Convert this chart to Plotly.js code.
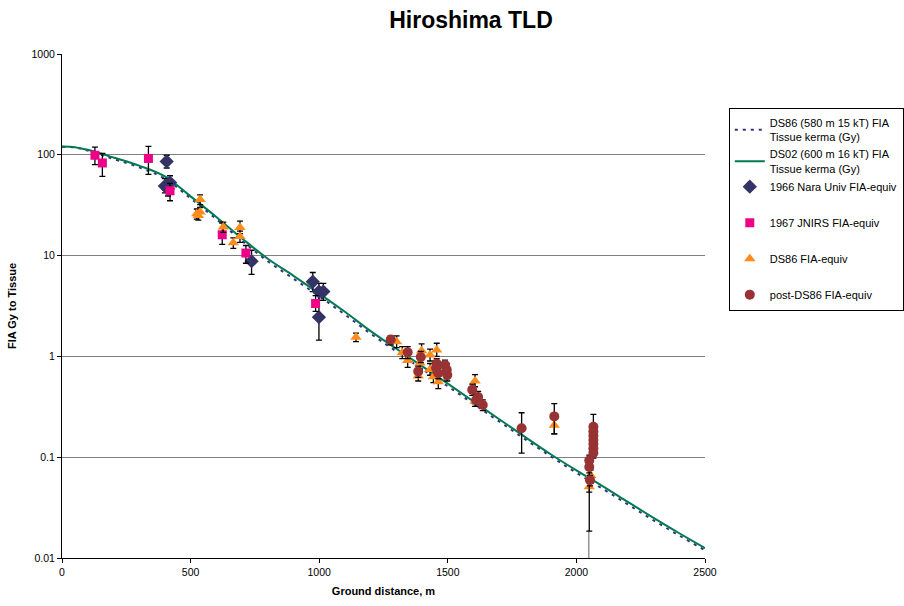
<!DOCTYPE html>
<html>
<head>
<meta charset="utf-8">
<script src="https://cdn.plot.ly/plotly-3.0.1.min.js"></script>
<style>html,body{margin:0;padding:0;background:#fff;}#chart{width:904px;height:606px;}</style>
</head>
<body>
<div id="chart"></div>
<script>
// Calculated curves
const curveX = [0, 50, 100, 150, 200, 300, 400, 500, 600, 700, 800, 900, 1000, 1100, 1200, 1300, 1400, 1500, 1600, 1700, 1800, 1900, 2000, 2100, 2200, 2300, 2400, 2500];
const ds02Curve = [121, 119, 112, 103, 94, 78, 61, 38.7, 24.2, 14.8, 9.3, 6.3, 4.2, 2.77, 1.78, 1.19, 0.80, 0.536, 0.357, 0.238, 0.159, 0.107, 0.074, 0.052, 0.036, 0.025, 0.0176, 0.0125];
const ds86Curve = [120, 118, 110, 100, 91, 75, 58, 37, 23, 14.0, 8.8, 5.9, 3.95, 2.6, 1.68, 1.12, 0.75, 0.505, 0.338, 0.226, 0.151, 0.102, 0.070, 0.049, 0.034, 0.0236, 0.0167, 0.0119];

// 1966 Nara Univ FIA-equiv
const naraX  = [407, 400, 412, 420, 737, 975, 999, 1016, 999];
const naraY  = [86, 49, 46, 53, 8.8, 5.5, 4.4, 4.4, 2.45];
const naraHi = [99, 58, 55, 62, 11.3, 6.8, 5.3, 5.3, 4.2];
const naraLo = [74, 42, 39, 45, 6.5, 4.4, 3.6, 3.6, 1.45];

// 1967 JNIRS FIA-equiv
const jnirsX  = [128, 157, 336, 420, 623, 715, 986];
const jnirsY  = [99, 83, 92, 44, 16.1, 10.6, 3.35];
const jnirsHi = [119, 103, 121, 52, 21, 12.6, 4.0];
const jnirsLo = [80, 61, 64, 35, 12.9, 8.4, 2.8];

// DS86 FIA-equiv
const ds86X  = [537, 524, 530, 537, 627, 692, 692, 666, 1143, 1301, 1323, 1344, 1398, 1392, 1385, 1431, 1431, 1444, 1457, 1463, 1606, 1606, 1914, 2056, 2050];
const ds86Y  = [36, 26, 25, 27, 19.2, 19, 15.5, 13.4, 1.55, 1.40, 1.09, 0.91, 1.14, 0.86, 0.64, 1.03, 0.74, 0.63, 1.16, 0.56, 0.57, 0.36, 0.207, 0.066, 0.051];
const ds86Hi = [40, 29, 28, 30, 21.5, 22, 17.5, 15, 1.7, 1.6, 1.25, 1.05, 1.33, 0.98, 0.73, 1.18, 0.85, 0.72, 1.35, 0.64, 0.66, 0.41, 0.24, 0.075, 0.058];
const ds86Lo = [32, 23, 22.5, 24, 17, 16.5, 13.5, 11.8, 1.4, 1.22, 0.95, 0.78, 0.98, 0.75, 0.57, 0.9, 0.65, 0.55, 1.0, 0.48, 0.5, 0.32, 0.17, 0.057, 0.045];

// post-DS86 FIA-equiv
const postX  = [1278, 1344, 1395, 1385, 1457, 1463, 1496, 1489, 1498, 1454, 1595, 1610, 1618, 1636, 1787, 1914, 2066, 2066, 2066, 2066, 2066, 2066, 2066, 2050, 2050, 2053];
const postY  = [1.47, 1.10, 0.985, 0.71, 0.85, 0.68, 0.735, 0.82, 0.655, 0.77, 0.467, 0.37, 0.395, 0.33, 0.194, 0.254, 0.20, 0.18, 0.163, 0.148, 0.135, 0.122, 0.11, 0.093, 0.080, 0.059];
const postHi = [1.6, 1.25, 1.12, 0.8, 0.95, 0.76, 0.85, 0.92, 0.74, 0.86, 0.53, 0.42, 0.45, 0.37, 0.276, 0.34, 0.266, 0.2, 0.18, 0.165, 0.15, 0.135, 0.134, 0.105, 0.09, 0.066];
const postLo = [1.3, 0.95, 0.87, 0.62, 0.75, 0.6, 0.6, 0.72, 0.57, 0.68, 0.41, 0.32, 0.34, 0.29, 0.11, 0.17, 0.18, 0.16, 0.147, 0.132, 0.12, 0.108, 0.098, 0.0185, 0.07, 0.052];

// lower-bound bar shown in grey at ~2050 m
const greyX  = [2048];
const greyY  = [0.019];
const greyLo = [0.004];

const yTickVals = [0.01, 0.1, 1, 10, 100, 1000];
const yTickText = ['0.01', '0.1', '1', '10', '100', '1000'];
const xTickVals = [0, 500, 1000, 1500, 2000, 2500];

function errs(y, hi, lo, color) {
  return {type: 'data', symmetric: false,
    array: y.map((v, i) => hi[i] - v),
    arrayminus: y.map((v, i) => v - lo[i]),
    color: color || '#000', thickness: 1.3, width: 3};
}

const traces = [
  {x: curveX, y: ds86Curve, mode: 'lines', name: 'DS86 (580 m 15 kT) FIA<br>Tissue kerma (Gy)',
   line: {color: '#333380', width: 2, dash: '3px,5px', shape: 'spline'}, legendgroup: 'a'},
  {x: curveX, y: ds02Curve, mode: 'lines', name: 'DS02 (600 m 16 kT) FIA<br>Tissue kerma (Gy)',
   line: {color: '#007a50', width: 2, shape: 'spline'}, legendgroup: 'a'},
  {x: greyX, y: greyY, mode: 'markers', showlegend: false, hoverinfo: 'skip', legendgroup: 'a',
   marker: {size: 1, opacity: 0},
   error_y: {type: 'data', symmetric: false, array: [0], arrayminus: greyY.map((v, i) => v - greyLo[i]), color: '#999', thickness: 1.6, width: 0}},
  {x: naraX, y: naraY, mode: 'markers', name: '1966 Nara Univ FIA-equiv',
   marker: {symbol: 'diamond', size: 11, color: '#333366'}, error_y: errs(naraY, naraHi, naraLo), legendgroup: 'a'},
  {x: jnirsX, y: jnirsY, mode: 'markers', name: '1967 JNIRS FIA-equiv',
   marker: {symbol: 'square', size: 9, color: '#ee0088'}, error_y: errs(jnirsY, jnirsHi, jnirsLo), legendgroup: 'd'},
  {x: ds86X, y: ds86Y, mode: 'markers', name: 'DS86 FIA-equiv',
   marker: {symbol: 'triangle-up', size: 10, color: '#ff8c1a'}, error_y: errs(ds86Y, ds86Hi, ds86Lo), legendgroup: 'e'},
  {x: postX, y: postY, mode: 'markers', name: 'post-DS86 FIA-equiv',
   marker: {symbol: 'circle', size: 10, color: '#993333'}, error_y: errs(postY, postHi, postLo), legendgroup: 'f'}
];

const layout = {
  width: 904, height: 606,
  margin: {l: 62, r: 199, t: 54, b: 48, autoexpand: false},
  paper_bgcolor: '#fff', plot_bgcolor: '#fff',
  font: {family: 'Liberation Sans, Arial, sans-serif', size: 11, color: '#000'},
  title: {text: '<b>Hiroshima TLD</b>', font: {size: 23, color: '#000'}, x: 0.521, xref: 'container', xanchor: 'center', y: 0.967, yref: 'container', yanchor: 'middle'},
  showlegend: true,
  legend: {x: 1.037, xanchor: 'left', y: 0.893, yanchor: 'top', bordercolor: '#000', borderwidth: 1,
    font: {size: 11, color: '#000'}, tracegroupgap: 17, itemsizing: 'trace', traceorder: 'grouped', bgcolor: '#fff'},
  xaxis: {range: [0, 2500], tickvals: xTickVals, showgrid: false, zeroline: false, showline: true, linecolor: '#000', linewidth: 1,
    ticks: 'outside', ticklen: 4, tickcolor: '#000', tickfont: {size: 10.5},
    title: {text: '<b>Ground distance, m</b>', font: {size: 11}, standoff: 10}},
  yaxis: {type: 'log', range: [-2, 3], tickvals: yTickVals, ticktext: yTickText, showgrid: true, gridcolor: '#808080', gridwidth: 1.2,
    zeroline: false, showline: true, linecolor: '#000', linewidth: 1, ticks: 'outside', ticklen: 4, tickcolor: '#000', tickfont: {size: 10.5},
    title: {text: '<b>FIA Gy to Tissue</b>', font: {size: 11}, standoff: 12}}
};

Plotly.newPlot('chart', traces, layout, {displayModeBar: false, staticPlot: true});
</script>
</body>
</html>
